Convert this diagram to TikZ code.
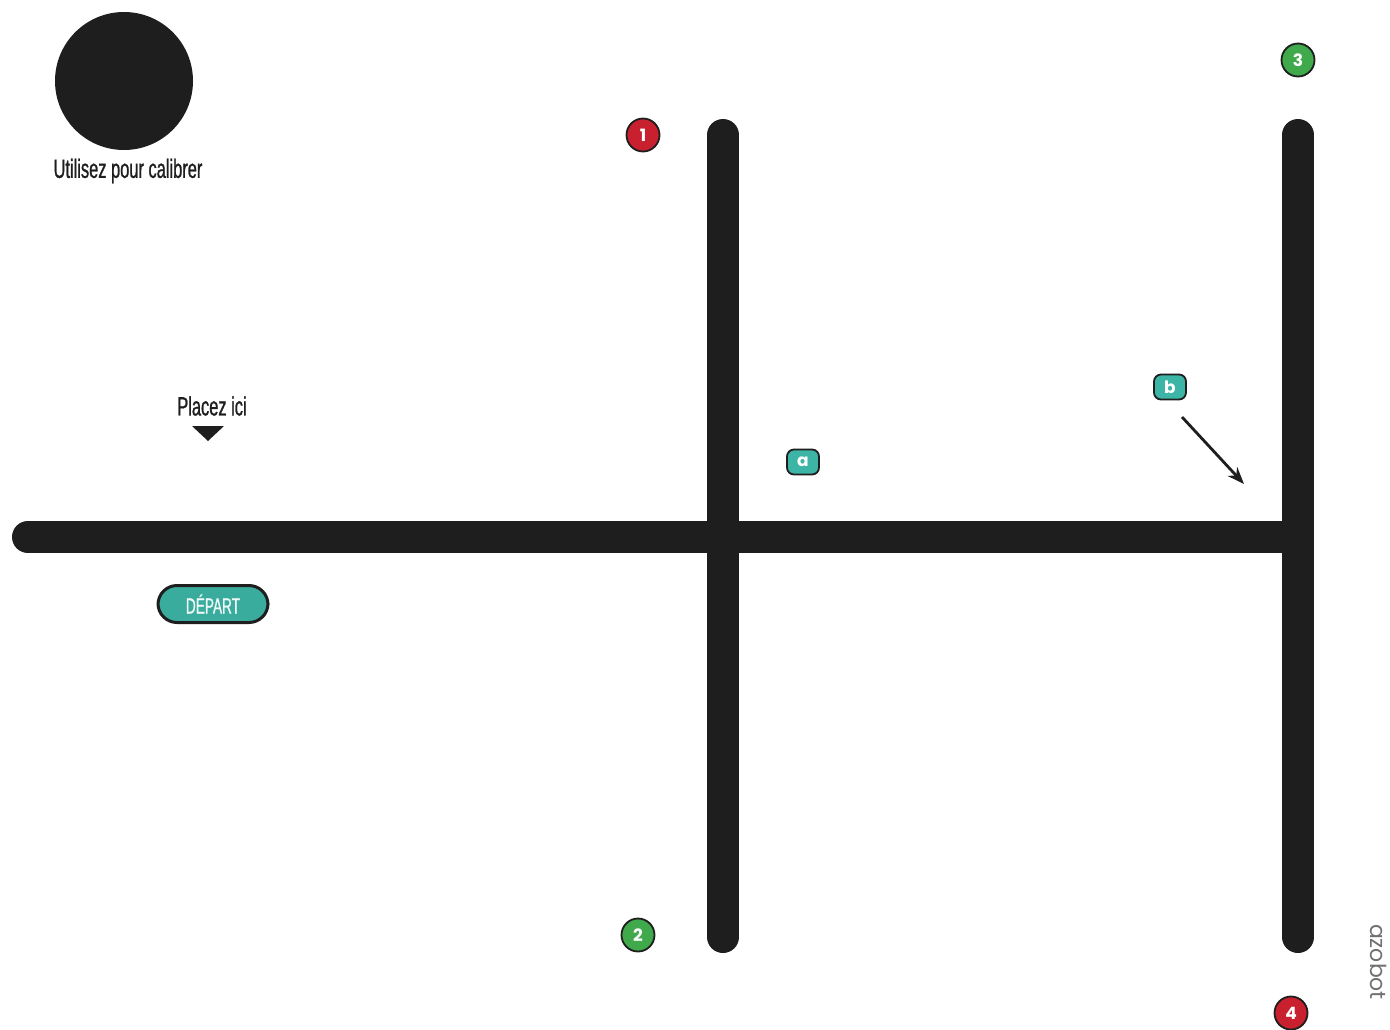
\documentclass[tikz,border=0pt]{standalone}
\usepackage{fontspec}
\setmainfont{Liberation Sans}
\newfontfamily\condfont[FakeStretch=0.62,FakeBold=0.9]{Liberation Sans}
\newfontfamily\roundfont{Poppins}
\usetikzlibrary{arrows.meta}
\definecolor{road}{HTML}{1E1E1E}
\definecolor{mred}{HTML}{C9202F}
\definecolor{mgreen}{HTML}{3FA94B}
\definecolor{mteal}{HTML}{3DB5A6}
\definecolor{azgrey}{HTML}{707070}
\tikzset{
  roadline/.style={line width=32pt, draw=road, line cap=round},
  marker/.style={circle, draw=road, line width=1.8pt, minimum size=33pt, inner sep=0pt,
     text=white, font=\roundfont\bfseries\fontsize{17}{17}\selectfont},
  redmark/.style={marker, fill=mred},
  greenmark/.style={marker, fill=mgreen},
  tag/.style={rounded corners=7pt, draw=road, line width=1.8pt, fill=mteal, minimum width=32pt,
     minimum height=25pt, inner sep=0pt, text=white, font=\roundfont\bfseries\fontsize{17}{17}\selectfont},
  cond/.style={font=\condfont\fontsize{26.5}{26.5}\selectfont, text=road, inner sep=0pt},
}
\begin{document}
\begin{tikzpicture}[x=1pt,y=-1pt]
\useasboundingbox[fill=white] (0,0) rectangle (1390,1029);
% roads
\coordinate (hl) at (28,537);
\coordinate (hr) at (1298,537);
\coordinate (v1t) at (723,135);
\coordinate (v1b) at (723,937);
\coordinate (v2t) at (1298,135);
\coordinate (v2b) at (1298,937);
\draw[roadline] (hl) -- (hr);
\draw[roadline] (v1t) -- (v1b);
\draw[roadline] (v2t) -- (v2b);
% calibration
\node[circle, fill=road, minimum size=138pt, inner sep=0pt] (cal) at (124,81) {};
\node[cond] (caltxt) at (128,171) {Utilisez pour calibrer};
% place here
\node[cond] (place) at (212,406) {Placez ici};
\fill[road] (192,426) -- (224,426) -- (208,441) -- cycle;
% depart
\node[rounded corners=19pt, draw=road, line width=3pt, fill=mteal!95!black, minimum width=110pt,
  minimum height=37pt, inner sep=0pt, text=white!92!mteal, font=\condfont\fontsize{22}{22}\selectfont] (dep) at (213,604) {DÉPART};
% markers
\node[redmark] (m1) at (643,135) {1};
\node[greenmark] (m2) at (638,935) {2};
\node[greenmark] (m3) at (1298,60) {3};
\node[redmark] (m4) at (1291,1013) {4};
% tags
\node[tag] (ta) at (803,462) {a};
\node[tag] (tb) at (1170,387) {b};
\coordinate (bs) at (1182,417);
\coordinate (be) at (1244,484);
\draw[road, line width=2.8pt, -{Stealth[length=17pt,width=13pt]}] (bs) -- (be);
% logo
\node[rotate=-90, text=azgrey, font=\roundfont\fontsize{22}{22}\selectfont, inner sep=0pt] (logo) at (1379,962) {azobot};
\end{tikzpicture}
\end{document}
